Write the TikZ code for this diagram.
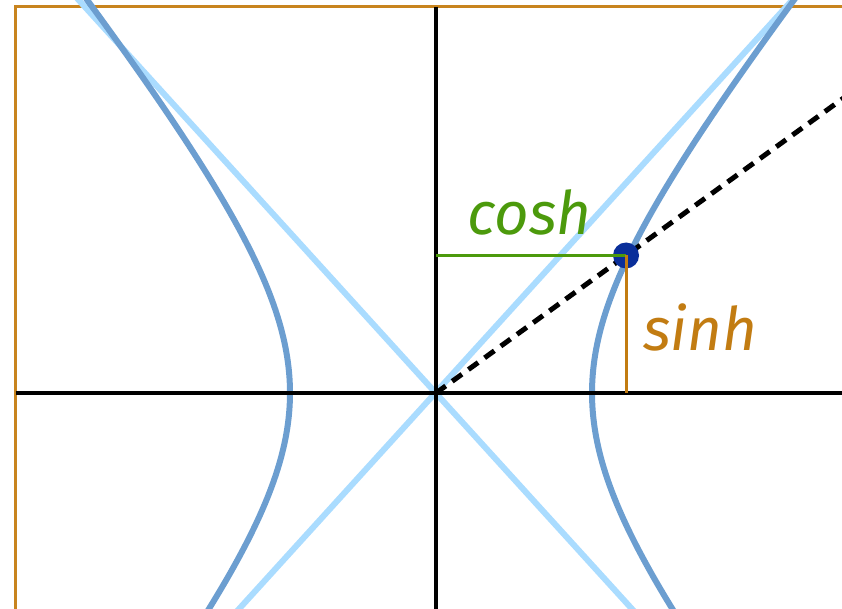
\documentclass[tikz,border=0pt]{standalone}
\usepackage{fontspec}
\newfontfamily\lblfont{Fira Sans}
\usetikzlibrary{calc}
\definecolor{frameorange}{HTML}{C8841E}
\definecolor{sinhorange}{HTML}{C27C12}
\definecolor{coshgreen}{HTML}{4C9A0C}
\definecolor{hypblue}{HTML}{6C9ED0}
\definecolor{asyblue}{HTML}{AADCFF}
\definecolor{dotblue}{HTML}{0A2F9A}
\tikzset{
  framestyle/.style={draw=frameorange, line width=3pt},
  asystyle/.style={draw=asyblue, line width=6pt},
  hypstyle/.style={draw=hypblue, line width=6pt},
  axisstyle/.style={draw=black, line width=3.2pt},
  raystyle/.style={draw=black, line width=5pt, dash pattern=on 12pt off 8pt},
  coshline/.style={draw=coshgreen, line width=3pt},
  sinhline/.style={draw=sinhorange, line width=3pt},
  lbl/.style={font=\lblfont\itshape\fontsize{60}{60}\selectfont, inner sep=0pt, anchor=base west}
}
\begin{document}
\begin{tikzpicture}[x=1pt,y=1pt]
\useasboundingbox (0,0) rectangle (842,-609);
\clip (0,0) rectangle (842,-609);
\fill[white] (0,0) rectangle (842,-609);
\coordinate (O) at (436,-393);
\coordinate (P) at (626,-255.5);
\coordinate (Px) at (O -| P);
\coordinate (Py) at (O |- P);
% frame
\draw[framestyle] (15.5,-700) -- (15.5,-7) -- (900,-7);
% asymptotes
\coordinate (A1) at (85,-7);
\coordinate (A2) at (632,-609);
\coordinate (B1) at (786,-7);
\coordinate (B2) at (239,-609);
\draw[asystyle] ($(A1)!-0.05!(A2)$) -- ($(A2)!-0.05!(A1)$);
\draw[asystyle] ($(B1)!-0.05!(B2)$) -- ($(B2)!-0.05!(B1)$);
% hyperbola
\draw[hypstyle] plot[domain=-1.6:1.6, samples=120, smooth] ({441+151*cosh(\x)}, {-393+186*sinh(\x)});
\draw[hypstyle] plot[domain=-1.6:1.6, samples=120, smooth] ({437-147*cosh(\x)}, {-393+182*sinh(\x)});
% axes
\draw[axisstyle] (15.5,-393) -- (842,-393);
\draw[axisstyle] (O |- 0,-7) -- (O |- 0,-609);
% ray
\draw[raystyle] (O) -- ($(O)!2.5!(P)$);
% point
\fill[dotblue] (P) circle (13);
% cosh / sinh lines
\draw[coshline] (Py) -- (P);
\draw[sinhline] (P) -- (Px);
% labels
\node[lbl, text=coshgreen] (cosh) at (467,-235) {cosh};
\node[lbl, text=sinhorange] (sinh) at (643,-350) {sinh};
\end{tikzpicture}
\end{document}
